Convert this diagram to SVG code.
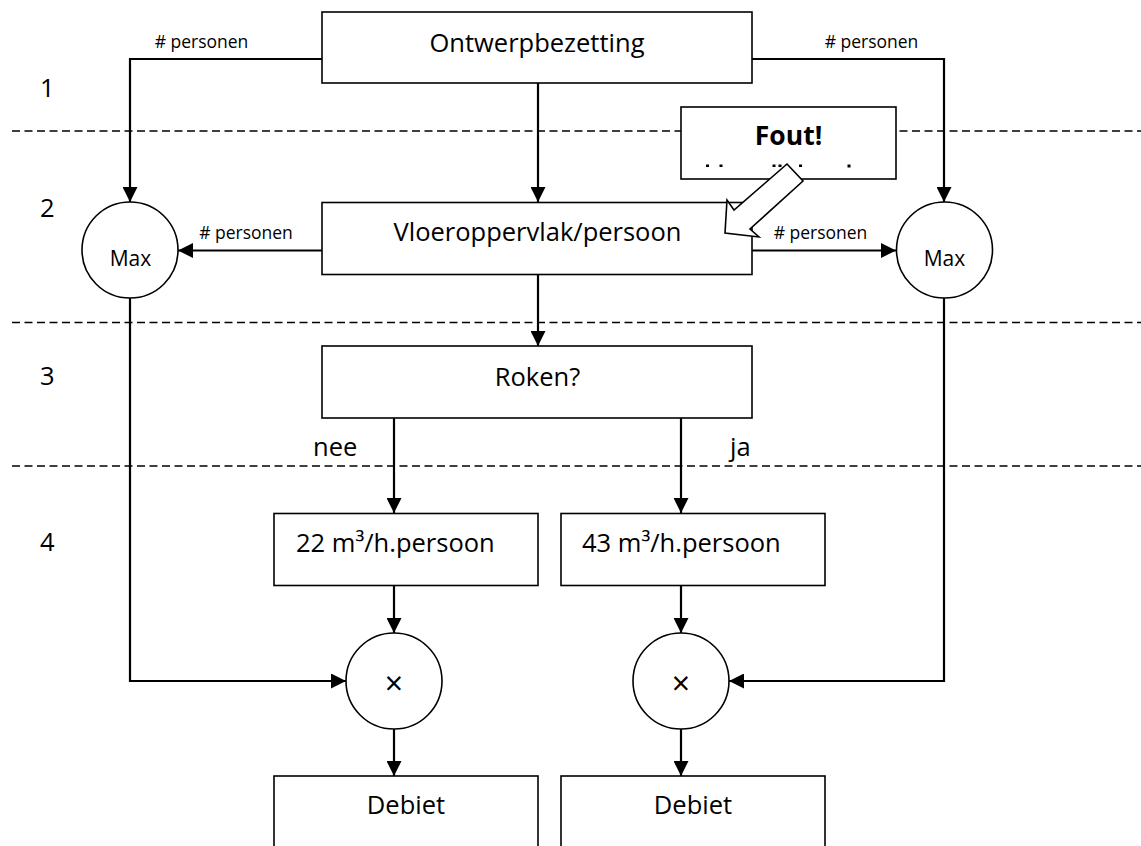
<svg xmlns="http://www.w3.org/2000/svg" width="1141" height="846" viewBox="0 0 1141 846">
  <style>
    .box { fill: #ffffff; stroke: #000000; stroke-width: 1.6; }
    .circ { fill: #ffffff; stroke: #000000; stroke-width: 1.6; }
    .conn { fill: none; stroke: #000000; stroke-width: 2.2; marker-end: url(#arrow); }
    .dash { fill: none; stroke: #000000; stroke-width: 1.5; stroke-dasharray: 8 4.5; }
    .t { font-family: "Open Sans", "Liberation Sans", sans-serif; font-size: 25.5px; fill: #000000; }
    .c { text-anchor: middle; }
    .s { font-family: "Open Sans", "Liberation Sans", sans-serif; font-size: 17.5px; fill: #000000; text-anchor: middle; }
    .m { font-family: "Open Sans", "Liberation Sans", sans-serif; font-size: 21px; fill: #000000; text-anchor: middle; }
    .x { font-family: "Open Sans", "Liberation Sans", sans-serif; font-size: 32px; fill: #000000; text-anchor: middle; }
    .b { font-family: "Open Sans", "Liberation Sans", sans-serif; font-size: 26.5px; font-weight: bold; fill: #000000; text-anchor: middle; }
  </style>
  <defs>
    <marker id="arrow" markerUnits="userSpaceOnUse" markerWidth="15" markerHeight="15" refX="15" refY="7.5" orient="auto">
      <path d="M0,0 L15,7.5 L0,15 z" fill="#000000"/>
    </marker>
  </defs>
  <rect width="1141" height="846" fill="#ffffff"/>

  <g id="layers">
    <line class="dash" x1="12" y1="131" x2="1141" y2="131"/>
    <line class="dash" x1="12" y1="322.5" x2="1141" y2="322.5"/>
    <line class="dash" x1="12" y1="466" x2="1141" y2="466"/>
    <text class="t" x="40" y="97">1</text>
    <text class="t" x="40" y="217">2</text>
    <text class="t" x="40" y="385">3</text>
    <text class="t" x="40" y="551">4</text>
  </g>

  <g id="connectors">
    <path class="conn" d="M322,59 H130 V202"/>
    <path class="conn" d="M752,59 H944 V202"/>
    <path class="conn" d="M538,83 V202"/>
    <path class="conn" d="M322,250.5 H178"/>
    <path class="conn" d="M752,250.5 H896"/>
    <path class="conn" d="M538,274 V346"/>
    <path class="conn" d="M394,418 V513"/>
    <path class="conn" d="M681,418 V513"/>
    <path class="conn" d="M394,586 V633"/>
    <path class="conn" d="M681,586 V633"/>
    <path class="conn" d="M130,298 V681 H346"/>
    <path class="conn" d="M944,298 V681 H729"/>
    <path class="conn" d="M394,729 V776"/>
    <path class="conn" d="M681,729 V776"/>
    <text class="s" x="201.5" y="48"># personen</text>
    <text class="s" x="871.5" y="48"># personen</text>
    <text class="s" x="246" y="239"># personen</text>
    <text class="s" x="820.5" y="239"># personen</text>
    <text class="t" x="313" y="456">nee</text>
    <text class="t" x="730" y="456">ja</text>
  </g>

  <g id="ontwerpbezetting">
    <rect class="box" x="322" y="12" width="430" height="71"/>
    <text class="t c" x="537" y="52">Ontwerpbezetting</text>
  </g>

  <g id="max-left">
    <circle class="circ" cx="130" cy="250" r="48"/>
    <text class="m" x="130.5" y="266">Max</text>
  </g>

  <g id="max-right">
    <circle class="circ" cx="944.5" cy="250" r="48"/>
    <text class="m" x="944.5" y="266">Max</text>
  </g>

  <g id="vloeroppervlak">
    <rect class="box" x="322" y="202.5" width="430" height="72"/>
    <text class="t c" x="537.5" y="241">Vloeroppervlak/persoon</text>
  </g>

  <g id="roken">
    <rect class="box" x="322" y="346" width="430" height="72"/>
    <text class="t c" x="537.5" y="386">Roken?</text>
  </g>

  <g id="nee-box">
    <rect class="box" x="274" y="513.5" width="264" height="72"/>
    <text class="t" x="296" y="552">22 m³/h.persoon</text>
  </g>

  <g id="ja-box">
    <rect class="box" x="561" y="513.5" width="264" height="72"/>
    <text class="t" x="582" y="552">43 m³/h.persoon</text>
  </g>

  <g id="mult-left">
    <circle class="circ" cx="394" cy="681" r="48"/>
    <text class="x" x="394" y="695">×</text>
  </g>

  <g id="mult-right">
    <circle class="circ" cx="681" cy="681" r="48"/>
    <text class="x" x="681" y="695">×</text>
  </g>

  <g id="debiet-left">
    <rect class="box" x="274" y="776" width="264" height="100"/>
    <text class="t c" x="406" y="814">Debiet</text>
  </g>

  <g id="debiet-right">
    <rect class="box" x="561" y="776" width="264" height="100"/>
    <text class="t c" x="693" y="814">Debiet</text>
  </g>

  <g id="fout">
    <rect class="box" x="681" y="107" width="215" height="72"/>
    <text class="b" x="788.5" y="145">Fout!</text>
    <g fill="#000000">
      <rect x="706" y="164.5" width="3" height="2.5"/>
      <rect x="719.5" y="164.5" width="3" height="2.5"/>
      <rect x="772.5" y="164.5" width="3" height="2.5"/>
      <rect x="778.5" y="164.5" width="3" height="2.5"/>
      <rect x="785" y="164.5" width="3" height="2.5"/>
      <rect x="799" y="164.5" width="3" height="2.5"/>
      <rect x="847.5" y="164.5" width="3" height="3"/>
    </g>
  </g>

  <g id="block-arrow">
    <polygon points="787,164 803,181 750,229 759,237 725,233 727,200 734,210" fill="#ffffff" stroke="#000000" stroke-width="1.6" stroke-linejoin="miter"/>
  </g>
</svg>
